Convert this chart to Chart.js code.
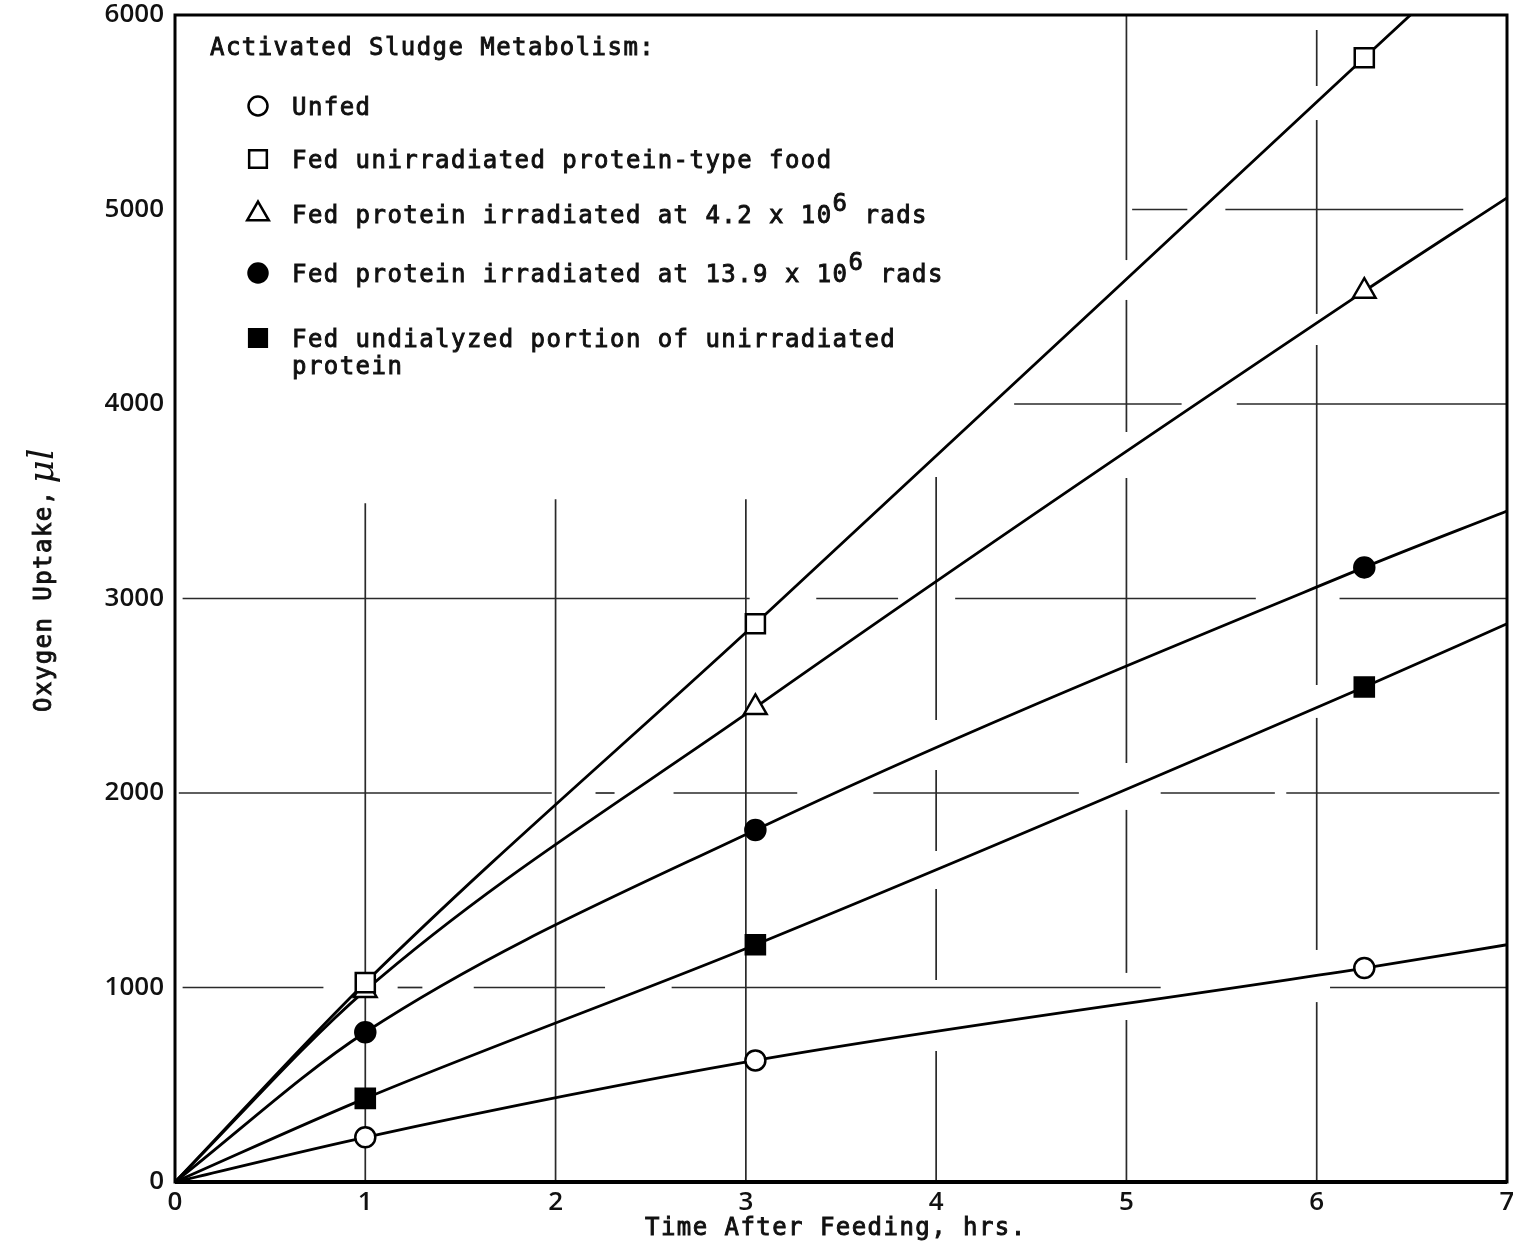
<!DOCTYPE html>
<html>
<head>
<meta charset="utf-8">
<script src="https://cdn.jsdelivr.net/npm/chart.js@4.4.1/dist/chart.umd.min.js"></script>
<style>
  html, body { margin: 0; padding: 0; background: #fff; }
</style>
</head>
<body>
<canvas id="chart" width="1513" height="1253"></canvas>
<script>
// values (origin and x=7 are where the drawn curves start / run out)
const hours = [0, 1, 3.05, 6.25, 7];
const showMarker = [false, true, true, true, false];

const unfed          = [0, 230, 625, 1100, 1220];
const fedUnirradiated = [0, 1025, 2870, 5780, 6460];
const fedIrr42       = [0, 985, 2440, 4580, 5060];
const fedIrr139      = [0, 770, 1810, 3160, 3450];
const fedUndialyzed  = [0, 430, 1220, 2545, 2870];

const seriesLabels = [
    'Unfed',
    'Fed unirradiated protein-type food',
    'Fed protein irradiated at 4.2 x 10^6 rads',
    'Fed protein irradiated at 13.9 x 10^6 rads',
    'Fed undialyzed portion of unirradiated\nprotein'
];
const legendTitle = 'Activated Sludge Metabolism:';
const xTitle = 'Time After Feeding, hrs.';
const yTitle = 'Oxygen Uptake,';
const yUnit = 'μl';

const xTicks = [0, 1, 2, 3, 4, 5, 6, 7];
const yTicks = [0, 1000, 2000, 3000, 4000, 5000, 6000];

// broken grid of the original drawing, in data units
const hGrid = [
    {y: 1000, spans: [[0.04, 0.78], [1.17, 1.30], [1.57, 2.26], [2.61, 5.18], [6.07, 7]]},
    {y: 2000, spans: [[0.02, 1.98], [2.21, 2.31], [2.62, 3.27], [3.67, 4.75], [5.18, 5.78], [5.84, 6.96]]},
    {y: 3000, spans: [[0.04, 3.02], [3.37, 3.80], [4.10, 5.68], [6.12, 7]]},
    {y: 4000, spans: [[4.41, 5.29], [5.58, 7]]},
    {y: 5000, spans: [[5.03, 5.32], [5.52, 6.77]]}
];
const vGrid = [
    {x: 1, spans: [[0, 3490]]},
    {x: 2, spans: [[0, 3510]]},
    {x: 3, spans: [[0, 3510]]},
    {x: 4, spans: [[0, 674], [1039, 1506], [1702, 2118], [2375, 3625]]},
    {x: 5, spans: [[0, 833], [1075, 1913], [2154, 3620], [3856, 4535], [4740, 6000]]},
    {x: 6, spans: [[0, 925], [1193, 2386], [2555, 4303], [4463, 5460], [5635, 5923]]}
];

const monoFont = '"DejaVu Sans Mono", "Liberation Mono", monospace';
const charW = 15.9;

function drawMarker(ctx, style, fill, r, cx, cy) {
    ctx.beginPath();
    if (style === 'circle') {
        ctx.arc(cx, cy, r, 0, Math.PI * 2);
    } else if (style === 'rect') {
        var s = r * Math.SQRT1_2;
        ctx.rect(cx - s, cy - s, 2 * s, 2 * s);
    } else {
        for (var i = 0; i < 3; i++) {
            var a = i * 2 * Math.PI / 3;
            var px = cx + Math.sin(a) * r, py = cy - Math.cos(a) * r;
            if (i == 0) ctx.moveTo(px, py); else ctx.lineTo(px, py);
        }
        ctx.closePath();
    }
    ctx.fillStyle = fill;
    ctx.fill();
    ctx.lineWidth = 2.5;
    ctx.strokeStyle = '#000';
    ctx.stroke();
}

function setMono(ctx, size) {
    ctx.font = size + 'px ' + monoFont;
    ctx.letterSpacing = '0px';
    var w = ctx.measureText('M').width;
    ctx.letterSpacing = (charW - w) + 'px';
    ctx.lineWidth = 0.9;
    ctx.strokeStyle = '#111';
    ctx.fillStyle = '#111';
}

function heavyText(ctx, s, x, y) {
    ctx.fillText(s, x, y);
    ctx.strokeText(s, x, y);
}

// draws "text^6 more" with a raised superscript char
function drawMonoText(ctx, text, x, y) {
    var parts = text.split('^');
    var cx = x;
    parts.forEach(function(part, i) {
        if (i > 0) {
            heavyText(ctx, part[0], cx, y - 12);
            cx += charW;
            part = part.slice(1);
        }
        heavyText(ctx, part, cx, y);
        cx += part.length * charW;
    });
}

const sketchPlugin = {
    id: 'sketch',
    beforeDatasetsDraw(chart) {
        const ctx = chart.ctx, x = chart.scales.x, y = chart.scales.y;
        ctx.save();
        ctx.strokeStyle = '#2a2a2a';
        ctx.lineWidth = 1.7;
        hGrid.forEach(function(g) {
            g.spans.forEach(function(s) {
                ctx.beginPath();
                ctx.moveTo(x.getPixelForValue(s[0]), y.getPixelForValue(g.y));
                ctx.lineTo(x.getPixelForValue(s[1]), y.getPixelForValue(g.y));
                ctx.stroke();
            });
        });
        vGrid.forEach(function(g) {
            g.spans.forEach(function(s) {
                ctx.beginPath();
                ctx.moveTo(x.getPixelForValue(g.x), y.getPixelForValue(s[0]));
                ctx.lineTo(x.getPixelForValue(g.x), y.getPixelForValue(s[1]));
                ctx.stroke();
            });
        });
        ctx.restore();
    },
    afterDraw(chart) {
        const ctx = chart.ctx, a = chart.chartArea;
        ctx.save();
        // frame
        ctx.strokeStyle = '#000';
        ctx.lineWidth = 3;
        ctx.strokeRect(a.left, a.top, a.right - a.left, a.bottom - a.top);
        ctx.lineWidth = 4;
        ctx.beginPath();
        ctx.moveTo(a.left, a.bottom);
        ctx.lineTo(a.right, a.bottom);
        ctx.stroke();

        // legend
        ctx.textBaseline = 'alphabetic';
        ctx.textAlign = 'left';
        setMono(ctx, 24);
        heavyText(ctx, legendTitle, 210, 55);
        const rowBase = [115, 168, 223, 282, 347];
        const markR = [9.5, 12.5, 12.5, 9.5, 12.5];
        chart.data.datasets.forEach(function(ds, i) {
            const lines = ds.label.split('\n');
            setMono(ctx, 24);
            lines.forEach(function(line, j) {
                drawMonoText(ctx, line, 292, rowBase[i] + j * 27);
            });
            drawMarker(ctx, ds.pointStyle, ds.pointBackgroundColor, markR[i], 258, rowBase[i] - 9);
        });

        // axis titles
        setMono(ctx, 24);
        heavyText(ctx, xTitle, 645, 1235);

        ctx.translate(51, 712);
        ctx.rotate(-Math.PI / 2);
        setMono(ctx, 24);
        heavyText(ctx, yTitle, 0, 0);
        ctx.letterSpacing = '0px';
        ctx.font = 'italic 36px "DejaVu Serif", serif';
        ctx.fillText(yUnit, yTitle.length * charW + 6, 2);
        ctx.restore();
    }
};

function series(i, values, style, fill, radius) {
    return {
        label: seriesLabels[i],
        data: hours.map(function(h, k) { return {x: h, y: values[k]}; }),
        borderColor: '#000',
        borderWidth: 2.8,
        cubicInterpolationMode: 'monotone',
        pointStyle: style,
        pointRadius: showMarker.map(function(s) { return s ? radius : 0; }),
        pointHoverRadius: showMarker.map(function(s) { return s ? radius : 0; }),
        pointBackgroundColor: fill,
        pointBorderColor: '#000',
        pointBorderWidth: 2.5
    };
}

const tickFont = {family: '"Open Sans", "Liberation Sans", sans-serif', size: 26, weight: '600'};
const plainTick = function(v) { return String(v); };

const config = {
    type: 'line',
    data: {
        datasets: [
            series(0, unfed, 'circle', '#fff', 10),
            series(1, fedUnirradiated, 'rect', '#fff', 13.5),
            series(2, fedIrr42, 'triangle', '#fff', 13),
            series(3, fedIrr139, 'circle', '#000', 10),
            series(4, fedUndialyzed, 'rect', '#000', 13.5)
        ]
    },
    options: {
        responsive: false,
        animation: false,
        layout: {padding: {top: 15, right: 6, left: 0, bottom: 0}},
        plugins: {
            legend: {display: false},
            tooltip: {enabled: false}
        },
        scales: {
            x: {
                type: 'linear',
                min: 0,
                max: 7,
                afterBuildTicks: function(scale) { scale.ticks = xTicks.map(function(v) { return {value: v}; }); },
                ticks: {font: tickFont, color: '#111', padding: 5, maxRotation: 0, callback: plainTick},
                grid: {display: false, drawTicks: false},
                border: {display: false},
                afterFit: function(scale) {
                    scale.height = 71;
                    scale.paddingLeft = 0; scale.paddingRight = 0;
                }
            },
            y: {
                type: 'linear',
                min: 0,
                max: 6000,
                afterBuildTicks: function(scale) { scale.ticks = yTicks.map(function(v) { return {value: v}; }); },
                ticks: {font: tickFont, color: '#111', padding: 11, callback: plainTick},
                grid: {display: false, drawTicks: false},
                border: {display: false},
                afterFit: function(scale) {
                    scale.width = 175;
                    scale.paddingTop = 0; scale.paddingBottom = 0;
                }
            }
        }
    },
    plugins: [sketchPlugin]
};

var ctxChart = document.getElementById('chart');
var chart = new Chart(ctxChart, config);
</script>
</body>
</html>
